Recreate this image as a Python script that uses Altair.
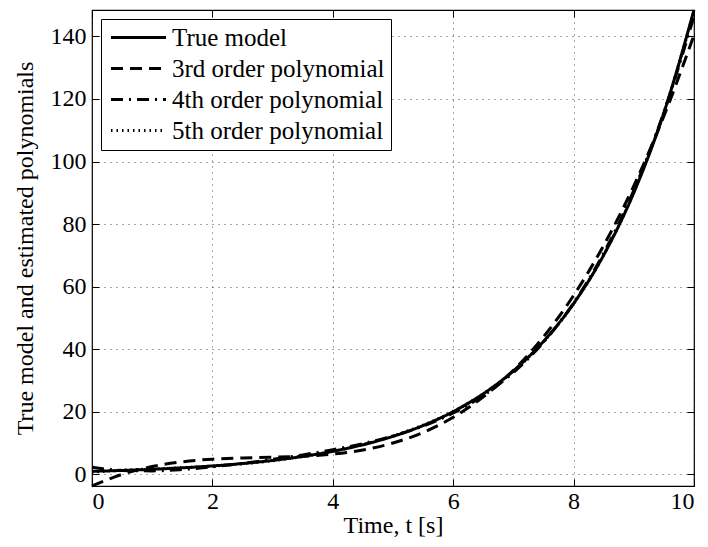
import altair as alt
import pandas as pd

t = [0.0, 0.5, 1.0, 1.5, 2.0, 2.5, 3.0, 3.5, 4.0, 4.5, 5.0,
     5.5, 6.0, 6.5, 7.0, 7.5, 8.0, 8.5, 9.0, 9.5, 10.0]
true_model = [1.00, 1.28, 1.65, 2.12, 2.72, 3.49, 4.48, 5.76, 7.39, 9.49, 12.18,
              15.64, 20.09, 25.79, 33.12, 42.52, 54.60, 70.11, 90.02, 115.58, 148.41]
poly3 = [-3.69, 0.04, 2.53, 4.05, 4.88, 5.27, 5.49, 5.81, 6.50, 7.82, 10.05,
         13.43, 18.26, 24.77, 33.26, 43.98, 57.20, 73.19, 92.20, 114.52, 140.40]
poly4 = [2.30, 1.28, 1.14, 1.59, 2.43, 3.54, 4.81, 6.25, 7.89, 9.85, 12.29,
         15.46, 19.64, 25.21, 32.59, 42.25, 54.76, 70.72, 90.81, 115.76, 146.39]
poly5 = [0.71, 1.35, 1.77, 2.17, 2.68, 3.39, 4.38, 5.70, 7.40, 9.56, 12.29,
         15.74, 20.13, 25.76, 33.02, 42.39, 54.52, 70.14, 90.17, 115.70, 147.98]

series_names = ["True model", "3rd order polynomial", "4th order polynomial", "5th order polynomial"]
x_ticks = [0, 2, 4, 6, 8, 10]
y_ticks = [0, 20, 40, 60, 80, 100, 120, 140]

rows = []
for name, vals in zip(series_names, [true_model, poly3, poly4, poly5]):
    for ti, v in zip(t, vals):
        rows.append({"t": ti, "value": v, "series": name})
df = pd.DataFrame(rows)

FONT = "Liberation Serif"
xscale = alt.Scale(domain=[0, 10], nice=False, zero=False)
yscale = alt.Scale(domain=[-3.69, 148.41], nice=False, zero=False)

lines = alt.Chart(df).mark_line(interpolate="monotone", color="black").encode(
    x=alt.X("t:Q", scale=xscale,
            axis=alt.Axis(title="Time, t [s]", values=x_ticks, offset=-7, tickSize=7,
                          domain=False, grid=True, labelPadding=3, titlePadding=0)),
    y=alt.Y("value:Q", scale=yscale,
            axis=alt.Axis(title="True model and estimated polynomials", values=y_ticks,
                          offset=-7, tickSize=7, domain=False, grid=True,
                          labelPadding=6, titlePadding=13)),
    strokeDash=alt.StrokeDash(
        "series:N",
        scale=alt.Scale(domain=series_names,
                        range=[[1, 0], [12, 7], [12, 6, 2, 6], [1.5, 4]]),
        legend=alt.Legend(title=None, orient="none", legendX=9, legendY=9,
                          symbolType="M-5,0H5", symbolSize=121, symbolStrokeColor="black",
                          symbolOffset=19,
                          labelFont=FONT, labelFontSize=25, labelColor="black",
                          fillColor="white", strokeColor="black", padding=6,
                          rowPadding=5, labelOffset=21, labelLimit=400),
    ),
    strokeWidth=alt.StrokeWidth(
        "series:N",
        scale=alt.Scale(domain=series_names, range=[3, 3, 3, 1.5]),
        legend=None,
    ),
)

top_right = alt.Chart(df).mark_line(opacity=0).encode(
    x=alt.X("t:Q", scale=xscale,
            axis=alt.Axis(orient="top", title=None, values=x_ticks, offset=-7, tickSize=7,
                          domain=False, grid=False, labels=False)),
    y=alt.Y("value:Q", scale=yscale,
            axis=alt.Axis(orient="right", title=None, values=y_ticks, offset=-7, tickSize=7,
                          domain=False, grid=False, labels=False)),
)

chart = alt.layer(lines, top_right).resolve_axis(x="independent", y="independent").properties(
    width=602, height=476,
    autosize=alt.AutoSizeParams(type="none"),
    padding={"left": 84, "top": 2, "right": 6, "bottom": 53},
).configure_view(
    stroke="black", strokeWidth=1.2
).configure_axis(
    labelFont=FONT, labelFontSize=24, labelColor="black",
    titleFont=FONT, titleFontSize=24, titleColor="black", titleFontWeight="normal",
    tickColor="black", tickWidth=1,
    gridColor="black", gridDash=[1, 5], gridWidth=1, gridOpacity=0.7,
)

chart.save("out.html", embed_options={"renderer": "svg", "actions": False})
